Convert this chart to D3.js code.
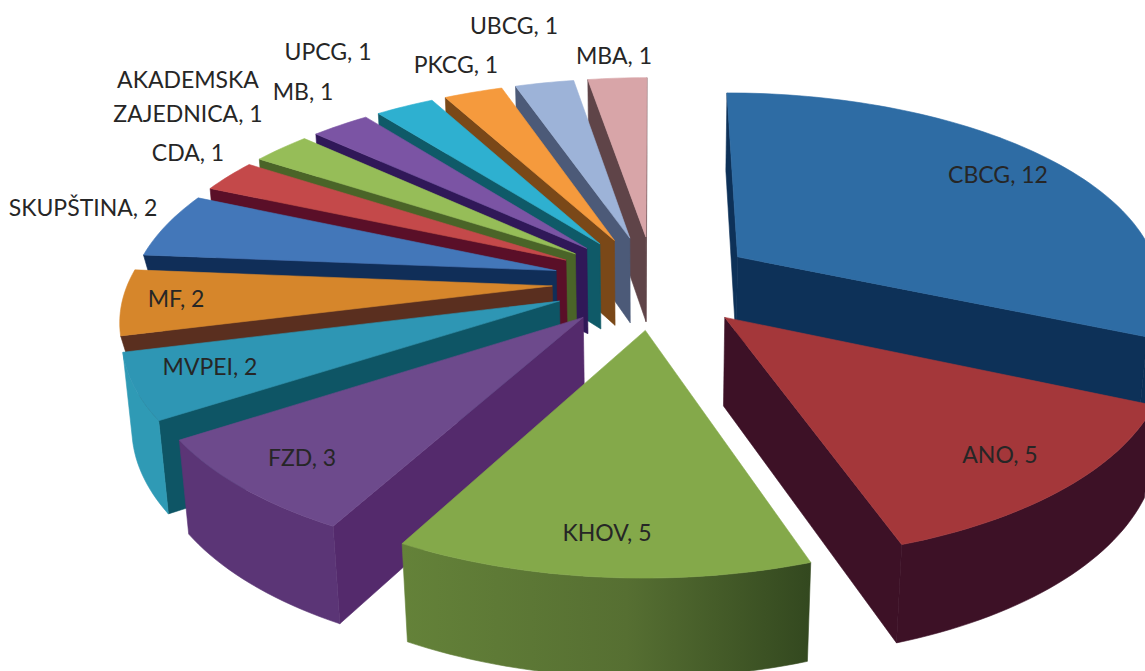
<!DOCTYPE html>
<html><head><meta charset="utf-8">
<script src="https://cdn.jsdelivr.net/npm/d3@7/dist/d3.min.js"></script>
<style>html,body{margin:0;padding:0;background:#fff;overflow:hidden}svg{display:block}
text{font-family:Lato,"Open Sans",sans-serif;font-size:23px;fill:#262626;text-anchor:middle;dominant-baseline:middle}</style>
</head><body>
<svg id="c" width="1145" height="671"></svg>
<script>
// data
const categories = ["CBCG","ANO","KHOV","FZD","MVPEI","MF","SKUPŠTINA","CDA","AKADEMSKA ZAJEDNICA","MB","UPCG","PKCG","UBCG","MBA"];
const values = [12,5,5,3,2,2,2,1,1,1,1,1,1,1];
// styles
const topColors  = ["#2e6ca4","#a4373a","#84a94a","#6d4a8c","#2e96b4","#d6862b","#4377b9","#c4494a","#96bd58","#7b54a4","#2eb0d0","#f59a3d","#9db3d8","#d8a5a8"];
const cutColors  = ["#0d3158","#3d1126","#33481f","#542a6c","#0e5565","#5a2f1f","#102e58","#5a0f28","#4a6428","#301858","#0f5a68","#7a4818","#4c5a78","#5f4448"];
const rimColors  = ["#0d3158","#3d1126","url(#khovWall)","#5b3576","#2f9ab5","#d6862b","#4377b9","#c4494a","#96bd58","#7b54a4","#2eb0d0","#f59a3d","#9db3d8","#d8a5a8"];
// radial fraction kept by the lower edge of each slice's cut wall
const cutInset   = [1,1,1,1,1,0.96,0.96,1,1,1,1,1,1,1];
// label layout: [cx, cy] per category
const labelLayout = [[998,177],[1000,457],[607,535],[302,460],[210,369],[176,301],[83,210],[188,155],[188,99],[303,94],[328,54],[456,67],[514,28],[614,58]];
// camera
const cam = {cx:654, cy:282, rx:424, D:6, phi:27.4*Math.PI/180};
const explode = 0.24, height = 0.235, radius = 1;

const svg = d3.select("#c");
const g = svg.append("defs").append("linearGradient").attr("id","khovWall").attr("x1",0).attr("x2",1).attr("y1",0).attr("y2",0);
g.append("stop").attr("offset",0).attr("stop-color","#648239");
g.append("stop").attr("offset",0.55).attr("stop-color","#566f32");
g.append("stop").attr("offset",1).attr("stop-color","#33481f");

const sp = Math.sin(cam.phi), cp = Math.cos(cam.phi), f = cam.rx*cam.D;
function project(X,Y,Z){
  const yy = Y*sp - Z*cp, zz = -Y*cp - Z*sp, k = f/(cam.D+zz);
  return [cam.cx + X*k, cam.cy + yy*k];
}
const eye = [0, cam.D*cp, cam.D*sp];
const line = d3.line().curve(d3.curveLinearClosed);

const arcs = d3.pie().sort(null).value(d=>d)(values).map((a,i)=>{
  const mid=(a.startAngle+a.endAngle)/2;
  return {...a,i,mid,ox:explode*Math.sin(mid),oy:-explode*Math.cos(mid)};
});
const order = arcs.slice().sort((p,q)=>(-Math.cos(p.mid))-(-Math.cos(q.mid)));

const layer = svg.append("g");
function face(pts,fill){
  layer.append("path").attr("d",line(pts)).attr("fill",fill).attr("stroke",fill).attr("stroke-width",0.6).attr("stroke-linejoin","round");
}
order.forEach(s=>{
  const P=(t,r,z)=>project(s.ox+r*Math.sin(t), s.oy-r*Math.cos(t), z);
  const n=Math.max(8,Math.ceil((s.endAngle-s.startAngle)*40));
  const ts=d3.range(n+1).map(k=>s.startAngle+(s.endAngle-s.startAngle)*k/n);
  const vis=(nx,ny,px,py)=>nx*(eye[0]-px)+ny*(eye[1]-py)>0;
  const lowR=radius*cutInset[s.i];
  if(vis(-Math.cos(s.startAngle),-Math.sin(s.startAngle),s.ox,s.oy))
    face([P(0,0,0),P(s.startAngle,radius,0),P(s.startAngle,lowR,-height),P(0,0,-height)],cutColors[s.i]);
  if(vis(Math.cos(s.endAngle),Math.sin(s.endAngle),s.ox,s.oy))
    face([P(0,0,0),P(s.endAngle,radius,0),P(s.endAngle,lowR,-height),P(0,0,-height)],cutColors[s.i]);
  const vt=ts.filter(t=>vis(Math.sin(t),-Math.cos(t),s.ox+radius*Math.sin(t),s.oy-radius*Math.cos(t)));
  if(vt.length>1) face(vt.map(t=>P(t,radius,0)).concat(vt.slice().reverse().map(t=>P(t,radius,-height))),rimColors[s.i]);
  face([P(0,0,0)].concat(ts.map(t=>P(t,radius,0))),topColors[s.i]);
});

const labels = svg.append("g");
arcs.forEach(s=>{
  const name=categories[s.i], txt=name+", "+values[s.i], [x,y]=labelLayout[s.i];
  const t=labels.append("text").attr("x",x).attr("y",y);
  if(name.includes(" ")){
    const parts=name.split(" ");
    t.append("tspan").attr("x",x).attr("dy","-0.72em").text(parts[0]);
    t.append("tspan").attr("x",x).attr("dy","1.44em").text(parts[1]+", "+values[s.i]);
  } else t.text(txt);
});
</script>
</body></html>
